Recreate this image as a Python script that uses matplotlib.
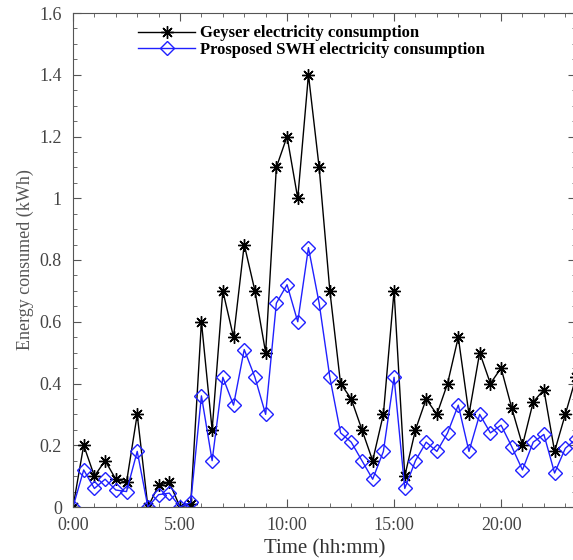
import matplotlib.pyplot as plt
import numpy as np

# half-hour time steps, 0:00 .. 23:30
hours = [i * 0.5 for i in range(48)]

geyser = [0, 0.2, 0.1, 0.15, 0.09, 0.08, 0.3, 0, 0.07, 0.08,
          0, 0.01, 0.6, 0.25, 0.7, 0.55, 0.85, 0.7, 0.5, 1.1,
          1.2, 1.0, 1.4, 1.1, 0.7, 0.4, 0.35, 0.25, 0.15, 0.3,
          0.7, 0.1, 0.25, 0.35, 0.3, 0.4, 0.55, 0.3, 0.5, 0.4,
          0.45, 0.32, 0.2, 0.34, 0.38, 0.18, 0.3, 0.42]

swh = [0, 0.12, 0.06, 0.09, 0.055, 0.05, 0.18, 0, 0.04, 0.045,
       0, 0.015, 0.36, 0.15, 0.42, 0.33, 0.51, 0.42, 0.3, 0.66,
       0.72, 0.6, 0.84, 0.66, 0.42, 0.24, 0.21, 0.15, 0.09, 0.18,
       0.42, 0.06, 0.15, 0.21, 0.18, 0.24, 0.33, 0.18, 0.3, 0.24,
       0.265, 0.195, 0.12, 0.21, 0.235, 0.11, 0.19, 0.22]

xtick_pos = [0, 5, 10, 15, 20]
xtick_labels = ['0:00', '5:00', '10:00', '15:00', '20:00']
ytick_pos = [0, 0.2, 0.4, 0.6, 0.8, 1.0, 1.2, 1.4, 1.6]
ytick_labels = ['0', '0.2', '0.4', '0.6', '0.8', '1', '1.2', '1.4', '1.6']

plt.rcParams['font.family'] = ['Liberation Serif', 'DejaVu Serif']

fig = plt.figure(figsize=(5.73, 5.6), dpi=100)
# axes run a little past the right edge, like the cropped original
ax = fig.add_axes([73 / 573, 53 / 560, 503 / 573, 494 / 560])

ax.plot(hours, geyser, color='black', lw=1.0, marker=(8, 2, 0), ms=9,
        mew=1.0, label='Geyser electricity consumption')
ax.plot(hours, swh, color='#2020ff', lw=1.0, marker='D', ms=7,
        mfc='none', mec='#2020ff', mew=1.0,
        label='Prosposed SWH electricity consumption')

ax.set_xlim(0, 23.5)
ax.set_ylim(0, 1.6)
ax.set_xticks(xtick_pos)
ax.set_xticklabels(xtick_labels)
ax.set_xticks(np.arange(0, 24, 1), minor=True)
ax.set_yticks(ytick_pos)
ax.set_yticklabels(ytick_labels)
ax.set_yticks(np.arange(0, 1.61, 0.05), minor=True)

ax.tick_params(which='both', direction='in', top=True, right=True,
               color='#555555')
ax.tick_params(which='major', length=6, labelsize=13, labelcolor='#444444')
ax.tick_params(which='minor', length=3)
ax.tick_params(axis='x', which='major', pad=7)
ax.tick_params(axis='y', which='major', pad=8)
for s in ax.spines.values():
    s.set_color('#555555')

ax.set_xlabel('Time (hh:mm)', fontsize=15, color='#333333', labelpad=4)
ax.set_ylabel('Energy consumed (kWh)', fontsize=13, color='#555555', labelpad=4)

ax.legend(loc='upper left', bbox_to_anchor=(0.11, 0.995), frameon=False,
          prop={'weight': 'bold', 'size': 12}, handlelength=3.4,
          handletextpad=0.3, labelspacing=0.05, borderaxespad=0.2)

fig.savefig('out.png', dpi=100)
